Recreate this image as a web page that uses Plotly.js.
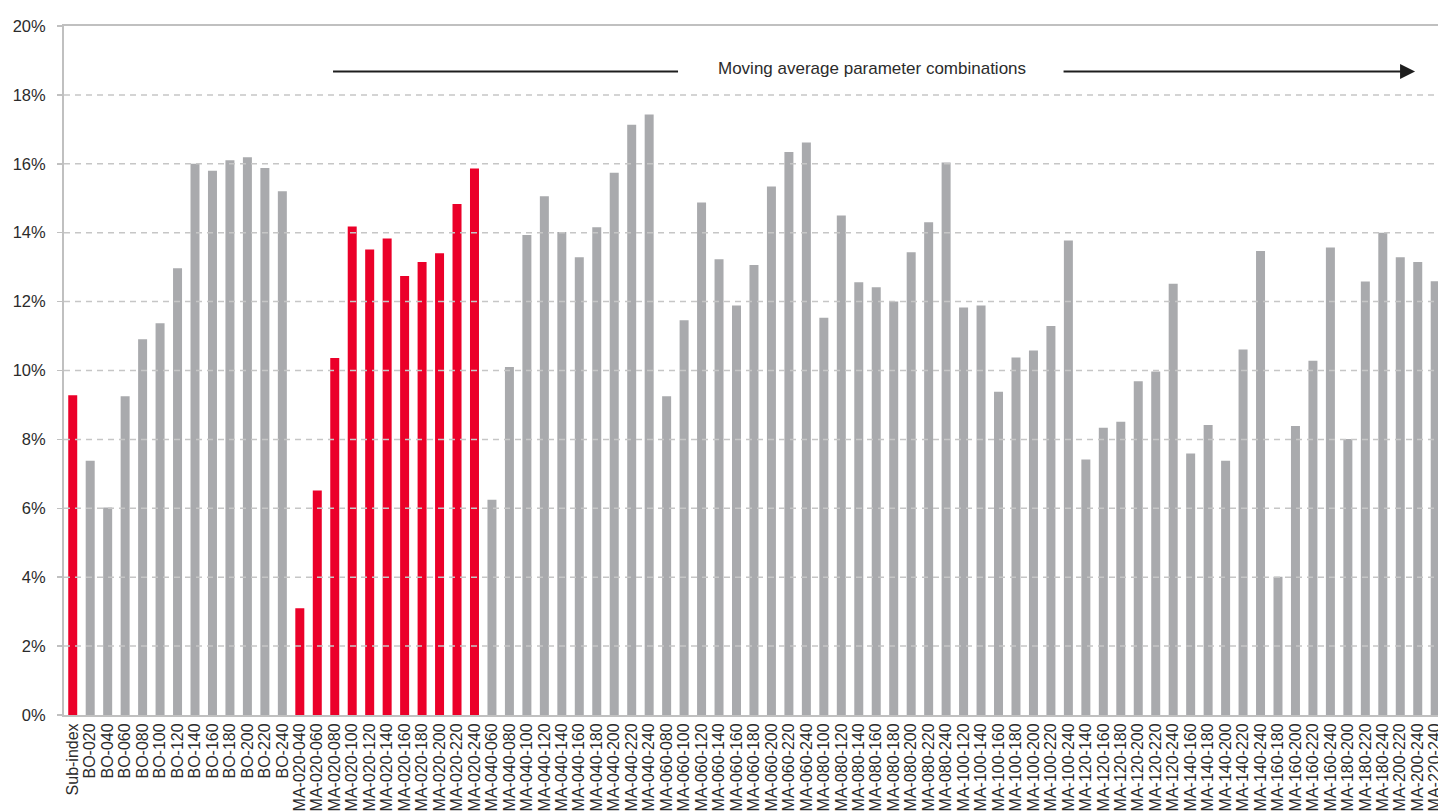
<!DOCTYPE html>
<html>
<head>
<meta charset="utf-8">
<script src="https://cdn.plot.ly/plotly-3.0.1.min.js"></script>
<style>
  html, body { margin: 0; padding: 0; background: #fff; overflow: hidden; }
  #chart { width: 1438px; height: 812px; }
</style>
</head>
<body>
<div id="chart"></div>
<script>
// Categories (tick labels)
const categories = [
  "Sub-index",
  "BO-020","BO-040","BO-060","BO-080","BO-100","BO-120","BO-140","BO-160","BO-180","BO-200","BO-220","BO-240",
  "MA-020-040","MA-020-060","MA-020-080","MA-020-100","MA-020-120","MA-020-140","MA-020-160","MA-020-180","MA-020-200","MA-020-220","MA-020-240",
  "MA-040-060","MA-040-080","MA-040-100","MA-040-120","MA-040-140","MA-040-160","MA-040-180","MA-040-200","MA-040-220","MA-040-240",
  "MA-060-080","MA-060-100","MA-060-120","MA-060-140","MA-060-160","MA-060-180","MA-060-200","MA-060-220","MA-060-240",
  "MA-080-100","MA-080-120","MA-080-140","MA-080-160","MA-080-180","MA-080-200","MA-080-220","MA-080-240",
  "MA-100-120","MA-100-140","MA-100-160","MA-100-180","MA-100-200","MA-100-220","MA-100-240",
  "MA-120-140","MA-120-160","MA-120-180","MA-120-200","MA-120-220","MA-120-240",
  "MA-140-160","MA-140-180","MA-140-200","MA-140-220","MA-140-240",
  "MA-160-180","MA-160-200","MA-160-220","MA-160-240",
  "MA-180-200","MA-180-220","MA-180-240",
  "MA-200-220","MA-200-240",
  "MA-220-240"
];

// Values in percent
const values = [
  9.28,
  7.38, 6.02, 9.25, 10.91, 11.37, 12.97, 16.00, 15.80, 16.10, 16.19, 15.88, 15.20,
  3.10, 6.52, 10.36, 14.18, 13.51, 13.83, 12.74, 13.15, 13.40, 14.83, 15.86,
  6.25, 10.10, 13.93, 15.06, 14.02, 13.29, 14.16, 15.74, 17.13, 17.43,
  9.25, 11.46, 14.88, 13.23, 11.89, 13.06, 15.34, 16.34, 16.62,
  11.53, 14.50, 12.56, 12.42, 12.00, 13.43, 14.30, 16.04,
  11.83, 11.89, 9.38, 10.38, 10.58, 11.29, 13.77,
  7.42, 8.34, 8.51, 9.69, 9.97, 12.52,
  7.59, 8.42, 7.38, 10.61, 13.47,
  4.01, 8.39, 10.28, 13.57,
  8.01, 12.58, 14.00,
  13.29, 13.15,
  12.59
];

// Highlighted (red) categories
const highlighted = [
  "Sub-index",
  "MA-020-040","MA-020-060","MA-020-080","MA-020-100","MA-020-120","MA-020-140",
  "MA-020-160","MA-020-180","MA-020-200","MA-020-220","MA-020-240"
];

const yTicks = [0, 2, 4, 6, 8, 10, 12, 14, 16, 18, 20];

const RED = "#eb0029";
const GREY = "#a9aaad";
const FONT = "'Liberation Sans', Arial, sans-serif";
const TXT = "#2b2b2b";

const colors = categories.map(c => highlighted.includes(c) ? RED : GREY);

const trace = {
  type: "bar",
  x: categories,
  y: values,
  marker: { color: colors, line: { width: 0 } },
  hoverinfo: "x+y"
};

const gridShapes = yTicks.filter(v => v > 0 && v < 20).map(v => ({
  type: "line", xref: "paper", yref: "y",
  x0: 0, x1: 1, y0: v, y1: v,
  layer: "above",
  line: { color: "#c6c6c6", width: 1.5, dash: "6px,5px" }
}));

const layout = {
  width: 1438,
  height: 812,
  margin: { l: 64, r: 0, t: 26, b: 97, pad: 0 },
  paper_bgcolor: "#ffffff",
  plot_bgcolor: "#ffffff",
  showlegend: false,
  bargap: 0.485,
  font: { family: FONT, color: TXT },
  xaxis: {
    type: "category",
    range: [-0.5, 78.16],
    autorange: false,
    tickmode: "array",
    tickvals: categories,
    ticktext: categories,
    tickangle: -90,
    tickfont: { family: FONT, size: 16, color: TXT },
    showline: true,
    mirror: true,
    linecolor: "#c0c0c0",
    linewidth: 2,
    showgrid: false,
    ticks: "",
    fixedrange: true
  },
  yaxis: {
    range: [0, 20],
    autorange: false,
    tickvals: yTicks,
    ticktext: yTicks.map(v => v + "%"),
    tickfont: { family: FONT, size: 16.5, color: TXT },
    showline: true,
    linecolor: "#c0c0c0",
    linewidth: 2,
    ticks: "outside",
    ticklen: 5,
    tickwidth: 1.5,
    tickcolor: "#c0c0c0",
    ticklabelstandoff: 8,
    showgrid: false,
    zeroline: false,
    fixedrange: true
  },
  shapes: gridShapes.concat([
    {
      type: "line", xref: "paper", yref: "paper",
      x0: 0.1958, x1: 0.4469, y0: 0.934, y1: 0.934,
      line: { color: "#1e1e1e", width: 2 }
    }
  ]),
  annotations: [
    {
      text: "Moving average parameter combinations",
      xref: "paper", yref: "paper",
      x: 0.588, y: 0.939,
      xanchor: "center", yanchor: "middle",
      showarrow: false,
      font: { family: FONT, size: 17, color: TXT }
    },
    {
      text: "",
      xref: "paper", yref: "paper",
      x: 0.9833, y: 0.934,
      axref: "pixel", ayref: "pixel",
      ax: -353, ay: 0,
      showarrow: true,
      arrowhead: 2,
      arrowsize: 1.5,
      arrowwidth: 2,
      arrowcolor: "#1e1e1e",
      standoff: 0
    }
  ]
};

Plotly.newPlot("chart", [trace], layout, { displayModeBar: false, staticPlot: true });
</script>
</body>
</html>
